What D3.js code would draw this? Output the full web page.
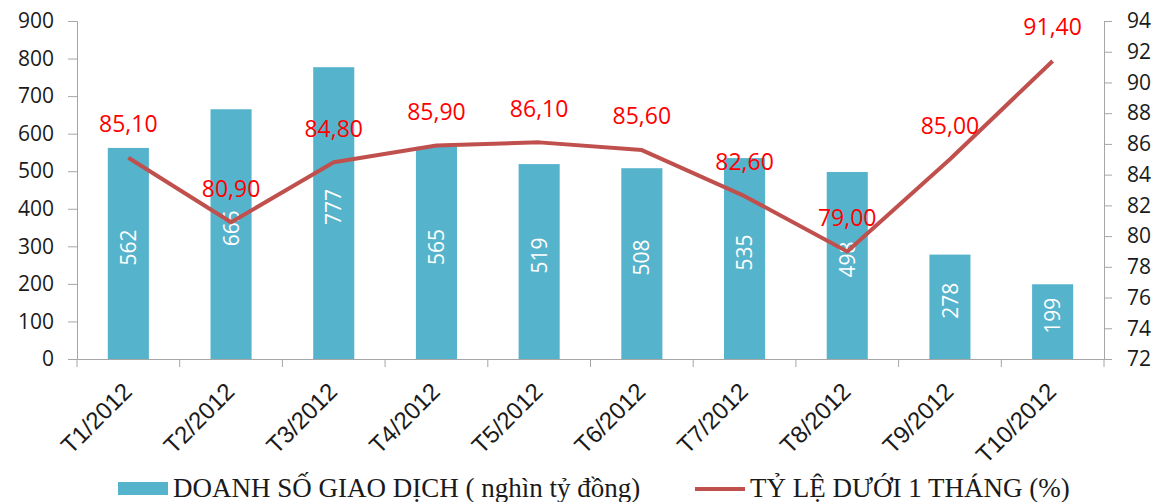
<!DOCTYPE html>
<html>
<head>
<meta charset="utf-8">
<script src="https://cdn.jsdelivr.net/npm/d3@7"></script>
<style>
  body { margin: 0; background: #fff; }
  .tick text { font-family: "Open Sans", sans-serif; }
</style>
</head>
<body>
<div id="chart"></div>
<script>
const months = ["T1/2012", "T2/2012", "T3/2012", "T4/2012", "T5/2012",
                "T6/2012", "T7/2012", "T8/2012", "T9/2012", "T10/2012"]
const sales = [562, 665, 777, 565, 519, 508, 535, 498, 278, 199]
const shortRate = [85.10, 80.90, 84.80, 85.90, 86.10, 85.60, 82.60, 79.00, 85.00, 91.40]
const leftTicks = [0, 100, 200, 300, 400, 500, 600, 700, 800, 900]
const rightTicks = [72, 74, 76, 78, 80, 82, 84, 86, 88, 90, 92, 94]
const barName = "DOANH SỐ GIAO DỊCH ( nghìn tỷ đồng)"
const lineName = "TỶ LỆ DƯỚI 1 THÁNG (%)"

const dimensions = {
    width: 1159,
    height: 502,
    margin: { top: 21, right: 55, bottom: 143, left: 77 },
}
dimensions.boundedWidth = dimensions.width - dimensions.margin.left - dimensions.margin.right
dimensions.boundedHeight = dimensions.height - dimensions.margin.top - dimensions.margin.bottom

const barColor = "#56b3cc"
const lineColor = "#c0504d"
const axisColor = "#a6a6a6"

const svg = d3.select("#chart")
    .append("svg")
    .attr("width", dimensions.width)
    .attr("height", dimensions.height)

const bounds = svg.append("g")
    .attr("transform", `translate(${dimensions.margin.left},${dimensions.margin.top})`)

// scales
const xScale = d3.scaleBand()
    .domain(months)
    .range([0, dimensions.boundedWidth])
    .paddingInner(0.6)
    .paddingOuter(0.3)

const yScale = d3.scaleLinear()
    .domain([0, 900])
    .range([dimensions.boundedHeight, 0])

const yRight = d3.scaleLinear()
    .domain([72, 94])
    .range([dimensions.boundedHeight, 0])

const center = d => xScale(d) + xScale.bandwidth() / 2

// bars
const bars = bounds.append("g")
    .selectAll("g")
    .data(months)
    .join("g")

bars.append("rect")
    .attr("x", d => xScale(d))
    .attr("y", (d, i) => yScale(sales[i]))
    .attr("width", xScale.bandwidth())
    .attr("height", (d, i) => dimensions.boundedHeight - yScale(sales[i]))
    .attr("fill", barColor)

bars.append("text")
    .attr("transform", (d, i) => `translate(${center(d)},${(yScale(sales[i]) + dimensions.boundedHeight) / 2 - 6}) rotate(-90)`)
    .attr("text-anchor", "middle")
    .attr("dy", "0.36em")
    .attr("fill", "#fff")
    .style("font-family", "Open Sans, sans-serif")
    .style("font-size", "21px")
    .text((d, i) => sales[i])

// axes
const yAxisGen = d3.axisLeft(yScale).tickValues(leftTicks).tickSize(9).tickPadding(14)
const yAxis = bounds.append("g").call(yAxisGen)

const yRightGen = d3.axisRight(yRight).tickValues(rightTicks).tickSize(8).tickPadding(15)
const yRightAxis = bounds.append("g")
    .attr("transform", `translate(${dimensions.boundedWidth},0)`)
    .call(yRightGen)

const step = xScale.step()
const xAxisGen = d3.axisBottom(xScale).tickSize(0).tickPadding(0)
const xAxis = bounds.append("g")
    .attr("transform", `translate(0,${dimensions.boundedHeight})`)
    .call(xAxisGen)

// boundary ticks between categories
xAxis.selectAll(".boundary")
    .data(d3.range(months.length + 1))
    .join("line")
    .attr("class", "boundary")
    .attr("x1", i => i * step)
    .attr("x2", i => i * step)
    .attr("y1", 0)
    .attr("y2", 8)
    .attr("stroke", axisColor)

;[yAxis, yRightAxis, xAxis].forEach(ax => {
    ax.select(".domain").attr("stroke", axisColor)
    ax.selectAll(".tick line").attr("stroke", axisColor)
    ax.selectAll(".tick text")
        .attr("fill", "#1a1a1a")
        .style("font-size", "21px")
})

xAxis.selectAll(".tick text")
    .attr("text-anchor", "end")
    .attr("y", 0)
    .attr("dy", 0)
    .attr("transform", "translate(5,34) rotate(-45)")
    .style("font-family", "Liberation Sans, Arial, sans-serif")
    .style("font-size", "24px")

// line
const lineGen = d3.line()
    .x((d, i) => center(months[i]))
    .y(d => yRight(d))

bounds.append("path")
    .datum(shortRate)
    .attr("d", lineGen)
    .attr("fill", "none")
    .attr("stroke", lineColor)
    .attr("stroke-width", 4)
    .attr("stroke-linejoin", "round")

bounds.append("g")
    .selectAll("text")
    .data(shortRate)
    .join("text")
    .attr("x", (d, i) => center(months[i]))
    .attr("y", d => yRight(d) - 34)
    .attr("dy", "0.36em")
    .attr("text-anchor", "middle")
    .attr("fill", "#ff0000")
    .style("font-family", "Open Sans, sans-serif")
    .style("font-size", "23px")
    .text(d => d.toFixed(2).replace(".", ","))

// legend
const legend = svg.append("g")
    .style("font-family", "Liberation Serif, Times New Roman, serif")
    .style("font-size", "27px")

legend.append("rect")
    .attr("x", 118).attr("y", 482)
    .attr("width", 50).attr("height", 13)
    .attr("fill", barColor)
legend.append("text")
    .attr("x", 173).attr("y", 497)
    .attr("fill", "#1a1a1a")
    .text(barName)

legend.append("line")
    .attr("x1", 695).attr("x2", 745)
    .attr("y1", 489).attr("y2", 489)
    .attr("stroke", lineColor)
    .attr("stroke-width", 4)
legend.append("text")
    .attr("x", 750).attr("y", 497)
    .attr("fill", "#1a1a1a")
    .text(lineName)
</script>
</body>
</html>
